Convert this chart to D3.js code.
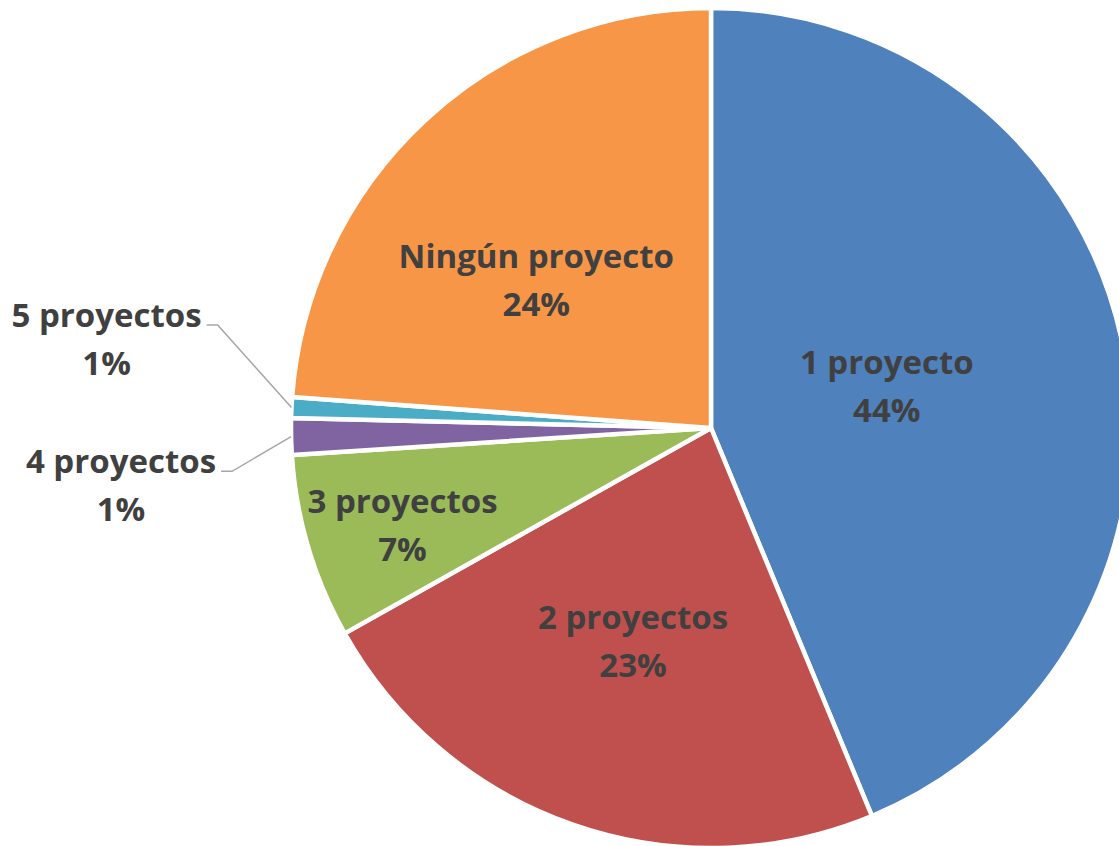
<!DOCTYPE html>
<html>
<head>
<meta charset="utf-8">
<script src="https://cdn.jsdelivr.net/npm/d3@7"></script>
<style>
  body { margin: 0; background: white; }
  svg { display: block; }
</style>
</head>
<body>
<div id="my_piechart"></div>
<script>
var width = 1119,
    height = 846

//pie centre and radius
var cx = 711,
    cy = 428,
    radius = 420

//data_set
var categories = ["1 proyecto", "2 proyectos", "3 proyectos", "4 proyectos", "5 proyectos", "Ningún proyecto"]
var shares = [43.7, 23.1, 7.1, 1.4, 0.8, 23.8]
var colours = ["#4F81BD", "#C0504D", "#9BBB59", "#8064A2", "#4BACC6", "#F79646"]

//where each label sits (fraction of radius, angle shift in degrees, outside = with leader line)
var labelPlace = {
    "1 proyecto": {r: 0.43, da: -2},
    "2 proyectos": {r: 0.54, da: 1},
    "3 proyectos": {r: 0.77, da: -1},
    "4 proyectos": {r: 1.145, da: -4, outside: true},
    "5 proyectos": {r: 1.2, da: 9, outside: true},
    "Ningún proyecto": {r: 0.544, da: -7}
}

var color = d3.scaleOrdinal()
    .domain(categories)
    .range(colours)

var total = d3.sum(shares)
var fmt = d3.format(".0%")

var svg = d3.select("#my_piechart")
    .append("svg")
        .attr("width", width)
        .attr("height", height)
        .style("background-color", "white")

var g = svg.append("g")
    .attr("transform", "translate(" + cx + "," + cy + ")")

var pie = d3.pie()
    .value(function(d) { return d.value })
    .sort(null)

var data_ready = pie(categories.map(function(c, i) { return {name: c, value: shares[i]} }))

var arc = d3.arc()
    .innerRadius(0)
    .outerRadius(radius)

//slices
g.selectAll("path.slice")
    .data(data_ready)
    .enter()
    .append("path")
        .attr("class", "slice")
        .attr("d", arc)
        .attr("fill", function(d) { return color(d.data.name) })
        .attr("stroke", "white")
        .style("stroke-width", "4.5px")

function polar(a, r) {
    return [r * Math.sin(a), -r * Math.cos(a)]
}

var lineGap = 48

data_ready.forEach(function(d) {
    var p = labelPlace[d.data.name]
    var mid = (d.startAngle + d.endAngle) / 2
    var a = mid + p.da * Math.PI / 180
    var pt = polar(a, p.r * radius)
    var pctText = fmt(d.data.value / total)

    var t = g.append("text")
        .attr("text-anchor", "middle")
        .style("font-family", "'Open Sans', 'Noto Sans', sans-serif")
        .style("font-weight", "700")
        .style("font-size", "33px")
        .attr("fill", "#404040")

    if (!p.outside) {
        t.append("tspan")
            .attr("x", pt[0])
            .attr("y", pt[1] - lineGap / 2)
            .attr("dy", "0.35em")
            .text(d.data.name)
        t.append("tspan")
            .attr("x", pt[0])
            .attr("y", pt[1] + lineGap / 2)
            .attr("dy", "0.35em")
            .text(pctText)
    } else {
        //leader line: edge of slice -> elbow -> short horizontal
        var edge = polar(mid, radius)
        var endX = pt[0] - 11
        g.append("polyline")
            .attr("points", [edge, pt, [endX, pt[1]]].map(function(q) { return q.join(",") }).join(" "))
            .attr("fill", "none")
            .attr("stroke", "#A6A6A6")
            .style("stroke-width", "1.5px")

        var l1 = t.append("tspan")
            .attr("y", pt[1] - 10)
            .attr("dy", "0.35em")
            .text(d.data.name)
        var w = l1.node().getComputedTextLength()
        var centreX = endX - 5 - w / 2
        l1.attr("x", centreX)
        t.append("tspan")
            .attr("x", centreX)
            .attr("y", pt[1] - 10 + lineGap)
            .attr("dy", "0.35em")
            .text(pctText)
    }
})
</script>
</body>
</html>
